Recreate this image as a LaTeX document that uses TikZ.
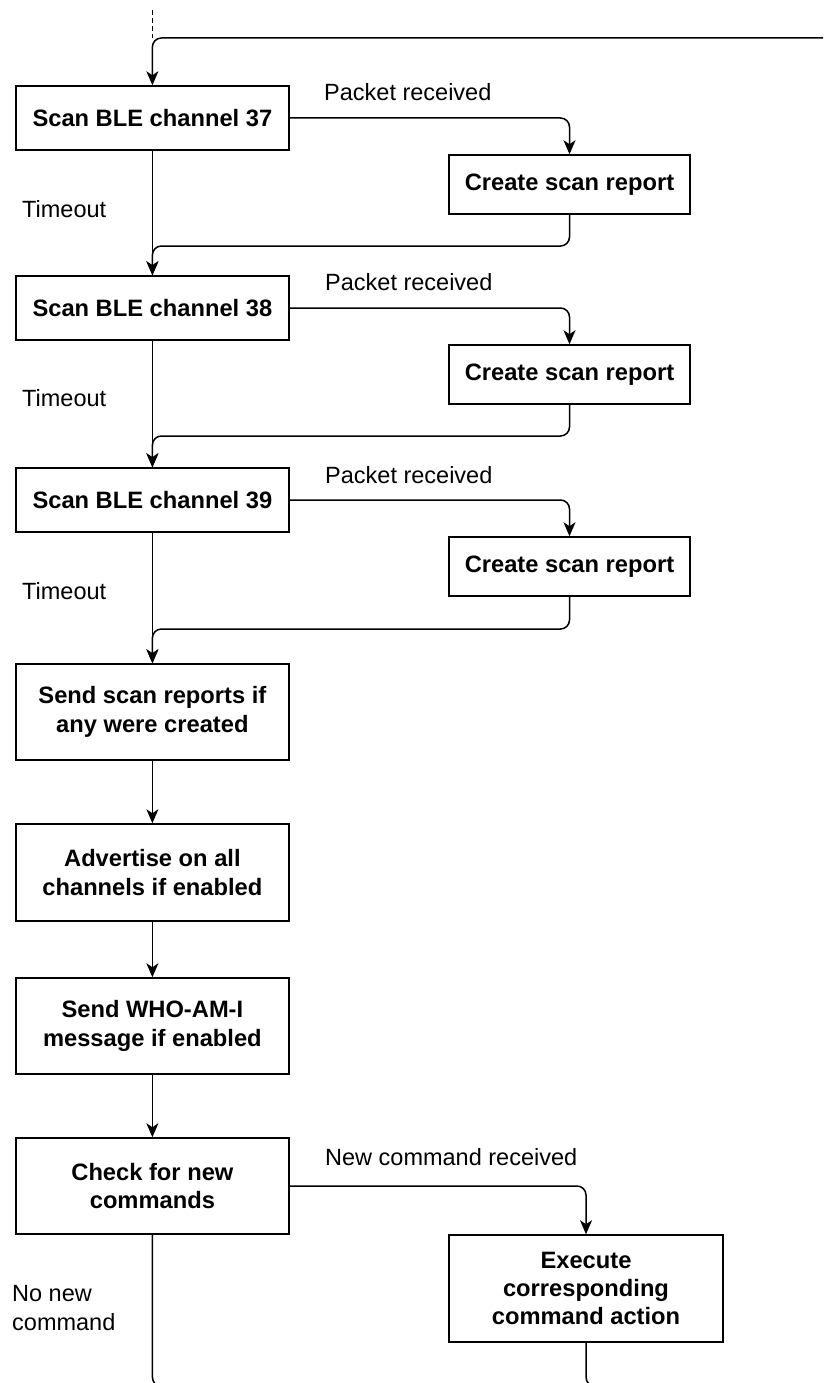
\documentclass[tikz,border=0pt]{standalone}
\usepackage{fontspec}
\setmainfont{Liberation Sans}
\usetikzlibrary{arrows.meta}

\begin{document}
\begin{tikzpicture}[x=1pt, y=-1pt,
  box/.style={draw, line width=1.5pt, fill=white, align=center, inner sep=0pt,
              font=\fontsize{23.7}{28.3}\selectfont\bfseries},
  lbox/.style={box, minimum width=273pt},
  rbox/.style={box, minimum width=241pt, minimum height=59pt},
  lbl/.style={anchor=west, inner sep=0pt, align=left,
              font=\fontsize{23.5}{28.8}\selectfont},
  flow/.style={line width=1.5pt, rounded corners=9pt,
               -{Stealth[length=14pt, width=12pt, inset=4pt]}},
  link/.style={line width=1.5pt, rounded corners=10pt}]

\useasboundingbox (0,0) rectangle (823,1383);
\clip (0,0) rectangle (823,1383);

% scanning stages
\node[lbox, minimum height=64pt] (s37) at (152.4,118) {Scan BLE channel 37};
\node[rbox] (r37) at (569.5,184.5) {Create scan report};
\node[lbox, minimum height=64pt] (s38) at (152.4,308) {Scan BLE channel 38};
\node[rbox] (r38) at (569.5,374.5) {Create scan report};
\node[lbox, minimum height=64pt] (s39) at (152.4,500) {Scan BLE channel 39};
\node[rbox] (r39) at (569.5,566.5) {Create scan report};

% reporting and command handling
\node[lbox, minimum height=96pt] (send) at (152.4,712) {Send scan reports if\\any were created};
\node[lbox, minimum height=97pt] (adv) at (152.4,872.5) {Advertise on all\\channels if enabled};
\node[lbox, minimum height=96pt] (who) at (152.4,1026) {Send WHO-AM-I\\message if enabled};
\node[lbox, minimum height=96pt] (chk) at (152.4,1186) {Check for new\\commands};
\node[box, minimum width=274pt, minimum height=107pt] (exe) at (586,1288.5)
  {Execute\\corresponding\\command action};

% edge labels
\node[lbl] (pr1) at (324,92) {Packet received};
\node[lbl] (pr2) at (325,282) {Packet received};
\node[lbl] (pr3) at (325,475) {Packet received};
\node[lbl] (to1) at (22,209) {Timeout};
\node[lbl] (to2) at (22,398) {Timeout};
\node[lbl] (to3) at (22,591) {Timeout};
\node[lbl] (ncr) at (325,1157) {New command received};
\node[lbl] (nnc) at (12,1308) {No new\\command};

% loop entry at the top
\coordinate (entry) at (845,38);
\coordinate (tc) at (152.4,38);
\coordinate (d0) at (152.4,10);
\draw[line width=1pt, dash pattern=on 5pt off 3pt] (d0) -- (tc);
\draw[flow] (entry) -- (tc) -- (s37.north);

% junctions where report branches rejoin
\coordinate (j1) at (152.4,246);
\coordinate (j2) at (152.4,436);
\coordinate (j3) at (152.4,629);

\draw[flow] (s37.east) -| (r37.north);
\draw[flow] (s37.south) -- (s38.north);
\draw[flow] (r37.south) |- (j1) -- (s38.north);

\draw[flow] (s38.east) -| (r38.north);
\draw[flow] (s38.south) -- (s39.north);
\draw[flow] (r38.south) |- (j2) -- (s39.north);

\draw[flow] (s39.east) -| (r39.north);
\draw[flow] (s39.south) -- (send.north);
\draw[flow] (r39.south) |- (j3) -- (send.north);

\draw[flow] (send.south) -- (adv.north);
\draw[flow] (adv.south) -- (who.north);
\draw[flow] (who.south) -- (chk.north);
\draw[flow] (chk.east) -| (exe.north);

% exits running off towards the loop back
\coordinate (b1) at (152.4,1387);
\coordinate (b1e) at (320,1387);
\coordinate (b2) at (586,1387);
\coordinate (b2e) at (760,1387);
\draw[link] (chk.south) -- (b1) -- (b1e);
\draw[link] (exe.south) -- (b2) -- (b2e);
\end{tikzpicture}
\end{document}
